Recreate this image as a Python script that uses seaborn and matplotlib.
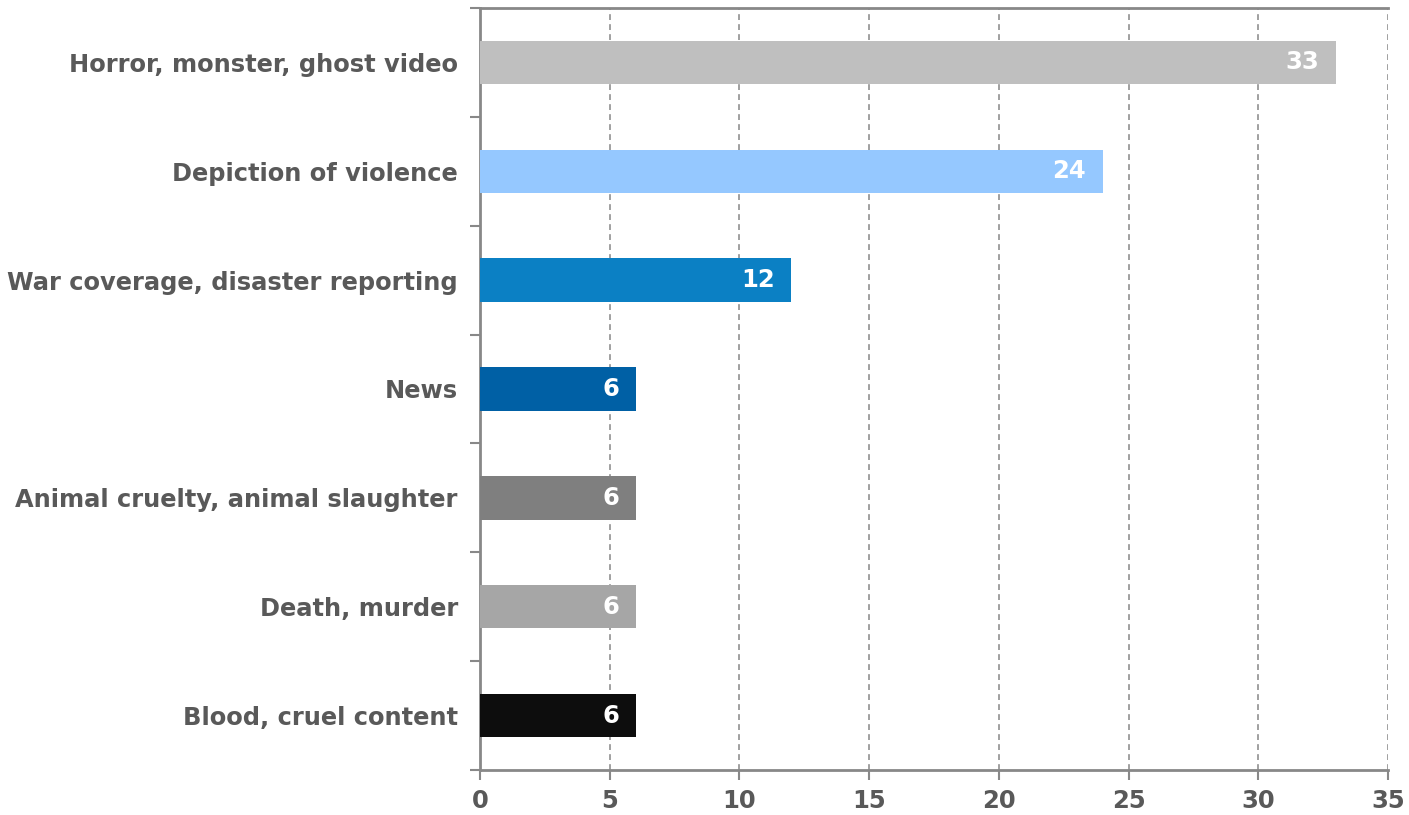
import matplotlib
matplotlib.use("Agg")
import matplotlib.pyplot as plt
import seaborn as sns
import pandas as pd
import numpy as np

categories = [
    "Horror, monster, ghost video",
    "Depiction of violence",
    "War coverage, disaster reporting",
    "News",
    "Animal cruelty, animal slaughter",
    "Death, murder",
    "Blood, cruel content",
]
values = [33, 24, 12, 6, 6, 6, 6]
colors = ["#BFBFBF", "#95C8FF", "#0B80C4", "#0060A5", "#7F7F7F", "#A6A6A6", "#0D0D0D"]
x_ticks = [0, 5, 10, 15, 20, 25, 30, 35]

sns.set_theme(style="white")
plt.rcParams["font.family"] = ["DejaVu Sans"]

text_gray = "#595959"
axis_gray = "#888888"

df = pd.DataFrame({"category": categories, "value": values})

fig = plt.figure(figsize=(14.09, 8.15), dpi=100)
ax = fig.add_axes([480 / 1409, 1 - 770 / 815, (1388 - 480) / 1409, (770 - 8) / 815])

sns.barplot(data=df, x="value", y="category", hue="category", palette=colors,
            order=categories, hue_order=categories, width=0.4, legend=False,
            dodge=False, errorbar=None, saturation=1, linewidth=0,
            edgecolor="none", ax=ax, zorder=3)

ax.set_xlim(0, 35)
ax.set_ylim(len(categories) - 0.5, -0.5)
ax.set_xticks(x_ticks)
ax.set_xticklabels([str(t) for t in x_ticks], fontsize=17.5, fontweight="bold", color=text_gray)
ax.set_yticks(range(len(categories)))
ax.set_yticklabels(categories, fontsize=17.4, fontweight="bold", color=text_gray)
ax.tick_params(axis="y", which="major", left=True, length=0, pad=16)
ax.set_yticks(np.arange(-0.5, len(categories), 1.0), minor=True)
ax.tick_params(axis="y", which="minor", left=True, length=7, width=1.5,
               color=axis_gray, direction="out")
ax.tick_params(axis="x", which="major", bottom=True, length=7, width=1.5,
               color=axis_gray, direction="out", pad=7)
ax.set_xlabel("")
ax.set_ylabel("")

for x in x_ticks[1:]:
    ax.axvline(x, color="#909090", linestyle=(0, (3.5, 2.5)), linewidth=1.2, zorder=1)

for side in ["left", "bottom", "top"]:
    ax.spines[side].set_visible(True)
    ax.spines[side].set_color(axis_gray)
    ax.spines[side].set_linewidth(2)
ax.spines["right"].set_visible(False)

for container in ax.containers:
    texts = ax.bar_label(container, fmt="%g", padding=-12, color="white",
                         fontsize=17.5, fontweight="bold")
    for t in texts:
        t.set_ha("right")

fig.savefig("out.png", dpi=100)
